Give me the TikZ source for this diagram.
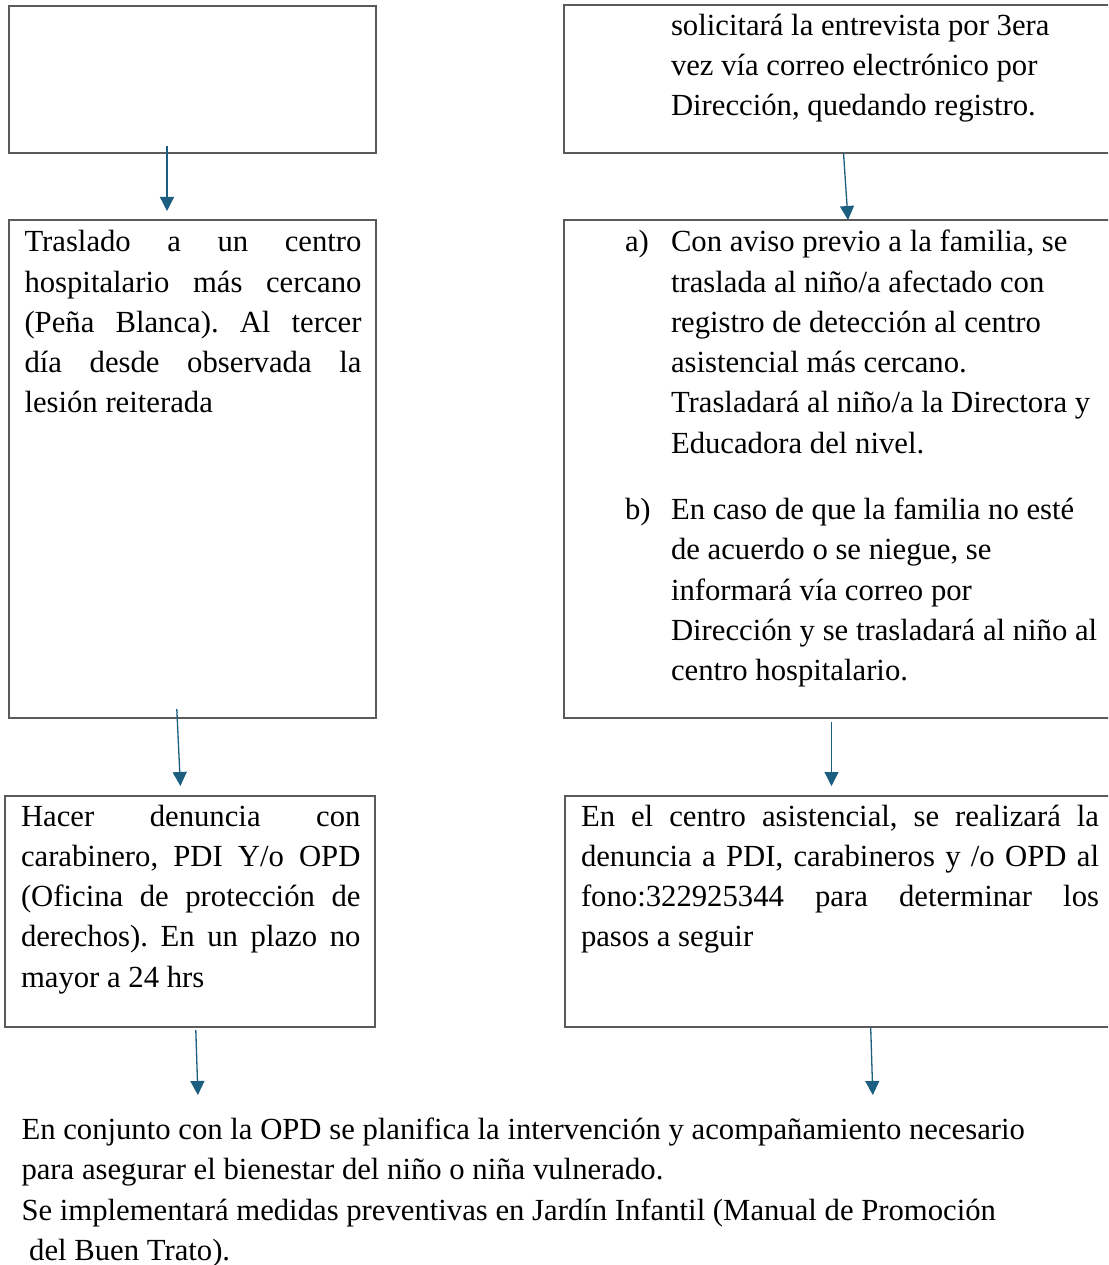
\documentclass[tikz,border=0pt]{standalone}
\usepackage{fontspec}
\setmainfont{Liberation Serif}
\usetikzlibrary{arrows.meta}
\definecolor{boxgray}{RGB}{90,90,90}
\definecolor{arrblue}{RGB}{28,94,128}
\newcommand{\jl}[2]{\makebox[#1][s]{#2}}
\begin{document}
\frenchspacing
\begin{tikzpicture}[x=1pt,y=-1pt,
  boxnode/.style={draw=boxgray,line width=1.6pt,rectangle,anchor=north west,inner sep=0pt,outer sep=0pt},
  txt/.style={anchor=north west,inner sep=0pt,outer sep=0pt,align=left,font=\fontsize{30.7}{40.3}\selectfont\frenchspacing},
  arr/.style={draw=arrblue,line width=1.3pt,-{Triangle[width=14pt,length=14pt]},arrblue}]
\useasboundingbox (0,0) rectangle (1108,1265);
\clip (0,0) rectangle (1108,1265);
\fill[white] (0,0) rectangle (1108,1265);
% boxes
\node[boxnode,minimum width=367pt,minimum height=147pt] (b1) at (9,6) {};
\node[boxnode,minimum width=556pt,minimum height=148pt] (b2) at (564,5) {};
\node[boxnode,minimum width=367pt,minimum height=498pt] (b3) at (9,220) {};
\node[boxnode,minimum width=556pt,minimum height=498pt] (b4) at (564,220) {};
\node[boxnode,minimum width=370pt,minimum height=231pt] (b5) at (5,796) {};
\node[boxnode,minimum width=555pt,minimum height=231pt] (b6) at (565,796) {};
% texts
\node[txt] (t2) at (671,6.8) {\strut solicitará la entrevista por 3era\\vez vía correo electrónico por\\Dirección, quedando registro.};
\node[txt] (t3) at (24.5,223.5) {\strut\jl{337pt}{Traslado a un centro}\\\jl{337pt}{hospitalario más cercano}\\\jl{337pt}{(Peña Blanca). Al tercer}\\\jl{337pt}{día desde observada la}\\lesión reiterada};
\node[txt] (la) at (625,223.5) {\strut a)};
\node[txt] (ta) at (671,223.5) {\strut Con aviso previo a la familia, se\\traslada al niño/a afectado con\\registro de detección al centro\\asistencial más cercano.\\Trasladará al niño/a la Directora y\\Educadora del nivel.};
\node[txt] (lb) at (625,491.3) {\strut b)};
\node[txt] (tb) at (671,491.3) {\strut En caso de que la familia no esté\\de acuerdo o se niegue, se\\informará vía correo por\\Dirección y se trasladará al niño al\\centro hospitalario.};
\node[txt] (t5) at (21,797.8) {\strut\jl{339.5pt}{Hacer denuncia con}\\\jl{339.5pt}{carabinero, PDI Y/o OPD}\\\jl{339.5pt}{(Oficina de protección de}\\\jl{339.5pt}{derechos). En un plazo no}\\mayor a 24 hrs};
\node[txt] (t6) at (581,797.8) {\strut\jl{518pt}{En el centro asistencial, se realizará la}\\\jl{518pt}{denuncia a PDI, carabineros y /o OPD al}\\\jl{518pt}{fono:322925344 para determinar los}\\pasos a seguir};
\node[txt] (fin) at (21.5,1111.3) {\strut En conjunto con la OPD se planifica la intervención y acompañamiento necesario\\para asegurar el bienestar del niño o niña vulnerado.\\Se implementará medidas preventivas en Jardín Infantil (Manual de Promoción\\\hspace*{0.25em}del Buen Trato).};
% arrow end points
\coordinate (a1s) at (167,146);   \coordinate (a1e) at (167,211);
\coordinate (a2s) at (843.5,153); \coordinate (a2e) at (848,220);
\coordinate (a3s) at (176.8,709); \coordinate (a3e) at (180.4,786);
\coordinate (a4s) at (831.5,722); \coordinate (a4e) at (831.5,786);
\coordinate (a5s) at (195.8,1030);\coordinate (a5e) at (197.9,1095);
\coordinate (a6s) at (870.7,1027.5);\coordinate (a6e) at (872.8,1095);
\draw[arr] (a1s) -- (a1e);
\draw[arr] (a2s) -- (a2e);
\draw[arr] (a3s) -- (a3e);
\draw[arr] (a4s) -- (a4e);
\draw[arr] (a5s) -- (a5e);
\draw[arr] (a6s) -- (a6e);
\end{tikzpicture}
\end{document}
